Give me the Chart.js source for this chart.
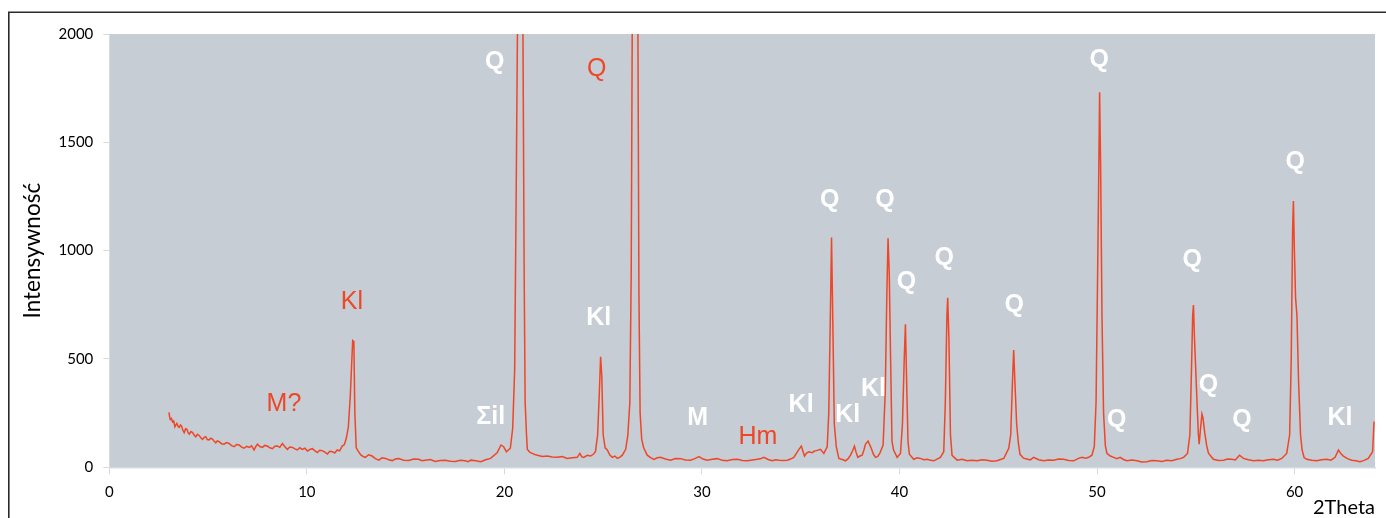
<!DOCTYPE html>
<html>
<head>
<meta charset="utf-8">
<script src="https://cdn.jsdelivr.net/npm/chart.js@4/dist/chart.umd.min.js"></script>
<style>
  html, body { margin: 0; padding: 0; background: #ffffff; }
  #wrap { position: relative; width: 1386px; height: 518px; }
</style>
</head>
<body>
<div id="wrap"><canvas id="xrd" width="1386" height="518"></canvas></div>
<script>
// Diffraction pattern: 2Theta angle (deg) and measured intensity, one row per line
const theta = [
  3.02, 3.06, 3.09, 3.14, 3.20, 3.26, 3.32, 3.37, 3.42, 3.48, 3.54, 3.60,
  3.66, 3.72, 3.79, 3.86, 3.93, 3.99, 4.05, 4.13, 4.22, 4.30, 4.38, 4.46,
  4.55, 4.63, 4.72, 4.80, 4.88, 4.96, 5.05, 5.13, 5.22, 5.30, 5.39, 5.47,
  5.56, 5.68, 5.81, 5.93, 6.06, 6.19, 6.32, 6.44, 6.57, 6.70, 6.82, 6.95,
  7.08, 7.20, 7.33, 7.41, 7.50, 7.62, 7.75, 7.87, 8.00, 8.13, 8.26, 8.38,
  8.51, 8.63, 8.76, 8.88, 9.01, 9.14, 9.27, 9.40, 9.52, 9.64, 9.77, 9.90,
  10.03, 10.15, 10.28, 10.40, 10.53, 10.65, 10.78, 10.91, 11.04, 11.16, 11.29, 11.41,
  11.54, 11.66, 11.79, 11.90, 12.00, 12.10, 12.20, 12.27, 12.32, 12.38, 12.43, 12.50,
  12.60, 12.73, 12.85, 12.96, 13.13, 13.30, 13.47, 13.64, 13.81, 13.98, 14.15, 14.32,
  14.48, 14.65, 14.90, 15.16, 15.41, 15.66, 15.83, 16.00, 16.25, 16.50, 16.75, 17.01,
  17.26, 17.52, 17.77, 18.02, 18.16, 18.30, 18.55, 18.80, 19.05, 19.30, 19.63, 19.83,
  19.96, 20.10, 20.30, 20.42, 20.52, 20.60, 20.66, 20.73, 20.80, 20.87, 20.94, 21.00,
  21.05, 21.12, 21.16, 21.28, 21.41, 21.54, 21.67, 21.92, 22.17, 22.42, 22.68, 22.93,
  23.18, 23.44, 23.69, 23.82, 23.92, 24.02, 24.19, 24.36, 24.50, 24.61, 24.72, 24.80,
  24.87, 24.93, 25.00, 25.10, 25.21, 25.33, 25.46, 25.59, 25.72, 25.85, 25.97, 26.14,
  26.25, 26.35, 26.42, 26.47, 26.55, 26.62, 26.69, 26.76, 26.81, 26.87, 26.95, 27.05,
  27.23, 27.40, 27.57, 27.74, 27.90, 28.15, 28.41, 28.66, 28.92, 29.17, 29.42, 29.64,
  29.85, 30.06, 30.27, 30.52, 30.78, 31.03, 31.28, 31.54, 31.79, 32.05, 32.30, 32.55,
  32.80, 33.00, 33.14, 33.35, 33.56, 33.73, 33.90, 34.11, 34.32, 34.48, 34.65, 34.91,
  35.03, 35.19, 35.30, 35.41, 35.58, 35.69, 35.80, 36.00, 36.17, 36.34, 36.42, 36.50,
  36.56, 36.62, 36.70, 36.80, 36.93, 37.10, 37.27, 37.40, 37.52, 37.62, 37.72, 37.80,
  37.89, 38.00, 38.11, 38.20, 38.28, 38.41, 38.57, 38.68, 38.79, 38.90, 39.00, 39.17,
  39.28, 39.36, 39.42, 39.48, 39.55, 39.62, 39.70, 39.88, 40.05, 40.15, 40.24, 40.30,
  40.36, 40.43, 40.50, 40.72, 40.89, 41.06, 41.23, 41.40, 41.57, 41.74, 41.90, 42.07,
  42.24, 42.32, 42.40, 42.44, 42.50, 42.58, 42.66, 42.92, 43.17, 43.42, 43.67, 43.93,
  44.18, 44.43, 44.68, 44.94, 45.11, 45.28, 45.53, 45.63, 45.72, 45.78, 45.84, 45.93,
  46.02, 46.10, 46.28, 46.45, 46.62, 46.79, 47.05, 47.30, 47.55, 47.81, 48.06, 48.31,
  48.57, 48.82, 49.03, 49.24, 49.41, 49.58, 49.74, 49.86, 49.95, 50.03, 50.08, 50.13,
  50.18, 50.25, 50.33, 50.42, 50.50, 50.67, 50.84, 51.00, 51.17, 51.34, 51.51, 51.77,
  52.02, 52.27, 52.52, 52.78, 53.03, 53.28, 53.53, 53.79, 54.04, 54.21, 54.38, 54.58,
  54.70, 54.78, 54.84, 54.88, 54.93, 55.00, 55.06, 55.13, 55.17, 55.24, 55.31, 55.36,
  55.45, 55.55, 55.64, 55.89, 56.15, 56.40, 56.61, 56.82, 57.00, 57.21, 57.41, 57.66,
  57.92, 58.17, 58.42, 58.68, 58.93, 59.14, 59.35, 59.60, 59.75, 59.83, 59.90, 59.94,
  59.99, 60.05, 60.12, 60.20, 60.30, 60.38, 60.48, 60.62, 60.87, 61.12, 61.37, 61.63,
  61.84, 62.05, 62.22, 62.35, 62.47, 62.68, 62.89, 63.10, 63.31, 63.52, 63.73, 63.95, 64.02
];
const counts = [
  254, 230, 221, 226, 210, 214, 187, 196, 203, 188, 184, 195,
  190, 172, 160, 178, 175, 160, 153, 165, 160, 148, 141, 152,
  147, 136, 129, 138, 141, 128, 126, 134, 130, 121, 113, 122,
  118, 109, 107, 114, 110, 100, 95, 105, 103, 93, 88, 97,
  92, 99, 80, 95, 107, 96, 92, 101, 98, 90, 86, 97,
  98, 92, 110, 96, 83, 94, 92, 85, 80, 90, 83, 88,
  75, 82, 86, 77, 68, 79, 77, 70, 61, 74, 72, 66,
  80, 76, 98, 105, 135, 185, 330, 480, 585, 580, 250, 90,
  75, 57, 50, 46, 58, 52, 40, 33, 44, 41, 35, 31,
  38, 40, 33, 31, 38, 37, 30, 33, 36, 27, 31, 33,
  28, 27, 32, 30, 26, 33, 30, 26, 35, 41, 67, 103,
  95, 72, 88, 180, 450, 1300, 2000, 3400, 3800, 3400, 2000, 900,
  300, 150, 83, 70, 64, 59, 56, 50, 52, 48, 46, 50,
  41, 44, 46, 64, 48, 46, 55, 52, 60, 72, 150, 330,
  510, 420, 150, 90, 80, 58, 46, 52, 41, 47, 56, 83,
  150, 300, 900, 2000, 6000, 7500, 6000, 2000, 800, 250, 130, 90,
  56, 45, 36, 44, 46, 38, 33, 41, 40, 34, 33, 40,
  49, 38, 33, 37, 40, 32, 30, 36, 37, 31, 30, 34,
  37, 41, 46, 36, 30, 35, 33, 31, 33, 38, 46, 83,
  98, 52, 66, 72, 67, 75, 77, 83, 64, 95, 250, 700,
  1061, 700, 200, 95, 41, 36, 30, 40, 56, 75, 98, 70,
  46, 52, 56, 80, 107, 121, 88, 60, 46, 50, 64, 103,
  350, 800, 1057, 900, 500, 120, 80, 46, 64, 200, 500, 660,
  400, 120, 60, 37, 44, 41, 35, 37, 33, 30, 38, 46,
  72, 300, 700, 783, 600, 150, 55, 33, 37, 30, 33, 30,
  35, 33, 28, 30, 36, 41, 88, 150, 400, 541, 400, 200,
  110, 60, 42, 38, 34, 46, 35, 30, 34, 33, 38, 37,
  31, 30, 40, 46, 42, 46, 56, 95, 300, 900, 1300, 1731,
  1400, 700, 250, 100, 64, 52, 46, 40, 46, 36, 30, 34,
  30, 25, 26, 31, 30, 27, 33, 30, 37, 40, 46, 64,
  150, 450, 700, 749, 600, 441, 300, 150, 107, 180, 246, 230,
  160, 100, 65, 37, 31, 33, 38, 37, 34, 56, 41, 35,
  30, 33, 30, 35, 37, 33, 41, 64, 150, 500, 1100, 1229,
  1000, 780, 700, 400, 150, 80, 45, 37, 33, 30, 35, 37,
  33, 46, 80, 62, 52, 40, 33, 30, 26, 32, 41, 72, 211
];

// Axis ticks
const thetaTicks = [0, 10, 20, 30, 40, 50, 60];
const countTicks = [0, 500, 1000, 1500, 2000];

// Phase markers: Q quartz, Kl kaolinite, M mica, Hm hematite, Σil illite
const tagText  = ['M?', 'Kl', 'Σil', 'Q', 'Kl', 'Q', 'M', 'Hm', 'Kl', 'Q', 'Kl', 'Kl', 'Q', 'Q', 'Q', 'Q',
                  'Q', 'Q', 'Q', 'Q', 'Q', 'Q', 'Kl'];
const tagTheta = [8.84, 12.28, 19.31, 19.51, 24.77, 24.67, 29.78, 32.83, 35.02, 36.47, 37.38, 38.68, 39.26, 40.35, 42.27, 45.81,
                  50.11, 51.0, 54.82, 55.64, 57.33, 60.03, 62.3];
const tagCount = [292, 763, 233, 1870, 689, 1838, 228, 141, 287, 1234, 241, 360, 1234, 856, 964, 749,
                  1880, 218, 957, 380, 218, 1409, 226];
const tagBold  = [false, false, true, true, true, false, true, false, true, true, true, true, true, true, true, true,
                  true, true, true, true, true, true, true];

const RED = '#ee4627';
const PLOT_BG = '#c6cdd4';
const AXIS_GREY = '#d6dadf';

const plotBackground = {
  id: 'plotBackground',
  beforeDraw(chart) {
    const { ctx, chartArea: a } = chart;
    ctx.save();
    ctx.fillStyle = PLOT_BG;
    ctx.fillRect(a.left, a.top, a.right - a.left, a.bottom - a.top);
    // outer frame (top and left edges)
    ctx.strokeStyle = '#2a2a2a';
    ctx.lineWidth = 1.6;
    ctx.beginPath();
    ctx.moveTo(1386, 12.3);
    ctx.lineTo(8.8, 12.3);
    ctx.lineTo(8.8, 518);
    ctx.stroke();
    ctx.restore();
  }
};

const phaseTags = {
  id: 'phaseTags',
  afterDatasetsDraw(chart) {
    const { ctx, scales: { x, y } } = chart;
    ctx.save();
    ctx.textAlign = 'center';
    ctx.textBaseline = 'middle';
    tagText.forEach((t, i) => {
      ctx.font = (tagBold[i] ? 'bold ' : '') + '25px "Liberation Sans", Arial, sans-serif';
      ctx.fillStyle = tagBold[i] ? '#ffffff' : RED;
      ctx.fillText(t, x.getPixelForValue(tagTheta[i]), y.getPixelForValue(tagCount[i]));
    });
    ctx.restore();
  }
};

const points = theta.map((t, i) => ({ x: t, y: counts[i] }));

new Chart(document.getElementById('xrd'), {
  type: 'line',
  data: {
    datasets: [{
      data: points,
      borderColor: RED,
      borderWidth: 1.5,
      pointRadius: 0,
      tension: 0,
      fill: false
    }]
  },
  options: {
    responsive: false,
    animation: false,
    events: [],
    layout: { padding: { left: 17, right: 11, top: 34, bottom: 0 } },
    plugins: { legend: { display: false }, tooltip: { enabled: false } },
    scales: {
      x: {
        type: 'linear',
        min: 0,
        max: 64.07,
        afterBuildTicks(scale) {
          scale.ticks = thetaTicks.map(v => ({ value: v }));
        },
        afterFit(scale) {
          scale.height = 50.7;
        },
        grid: { drawOnChartArea: false, drawTicks: true, tickLength: 7, color: AXIS_GREY },
        border: { display: true, color: AXIS_GREY, width: 1.5 },
        ticks: {
          padding: 10,
          color: '#000000',
          maxRotation: 0,
          callback: v => String(v),
          font: { family: 'Lato', size: 15, lineHeight: 1 }
        },
        title: {
          display: true,
          text: '2Theta',
          align: 'end',
          color: '#000000',
          padding: { top: 0, bottom: 0 },
          font: { family: 'Lato', size: 20, lineHeight: 1 }
        }
      },
      y: {
        type: 'linear',
        min: 0,
        max: 2000,
        afterBuildTicks(scale) {
          scale.ticks = countTicks.map(v => ({ value: v }));
        },
        grid: { drawOnChartArea: false, drawTicks: true, tickLength: 6, color: AXIS_GREY },
        border: { display: false },
        ticks: {
          padding: 10,
          color: '#000000',
          callback: v => String(v),
          font: { family: 'Lato', size: 15, lineHeight: 1 }
        },
        title: {
          display: true,
          text: 'Intensywność',
          color: '#000000',
          padding: { top: 4, bottom: 5 },
          font: { family: 'Lato', size: 22.5, lineHeight: 1 }
        }
      }
    }
  },
  plugins: [plotBackground, phaseTags]
});
</script>
</body>
</html>
